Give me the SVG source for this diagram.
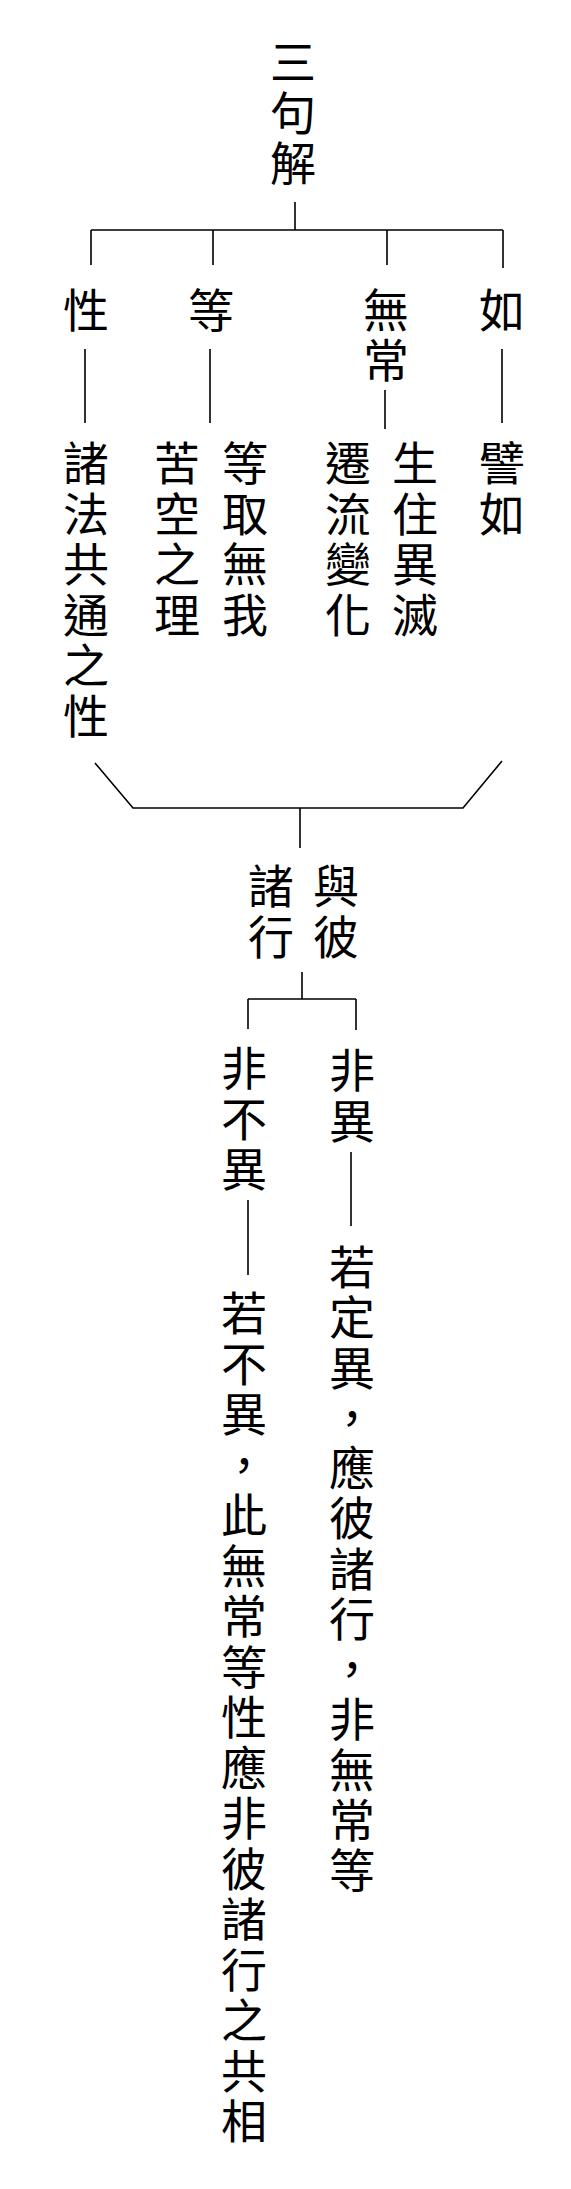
<svg xmlns="http://www.w3.org/2000/svg" width="571" height="2189" viewBox="0 0 571 2189">
<style>
text{font-family:"Noto Sans CJK TC","Noto Sans CJK SC",sans-serif;font-size:46px;fill:#000;text-anchor:middle}
.c{fill:none;stroke:#000;stroke-width:1.6}
</style>
<rect width="571" height="2189" fill="#fff"/>
<g id="connectors">
<path class="c" d="M295 202V230M91 230H503M91 230V265M213 230V265M387 230V265M503 230V268"/>
<path class="c" d="M85 349V423M210 349V423M385 390V429M502 349V423"/>
<path class="c" d="M95 763L133 808H463L502 761M300 808V848"/>
<path class="c" d="M302 972V999M248 999H356M248 999V1029M356 999V1030"/>
<path class="c" d="M248 1200V1275M351 1152V1226"/>
</g>
<g id="root"><text x="293 293 293" y="79 130 180">三句解</text></g>
<g id="n-xing"><text x="86" y="327">性</text></g>
<g id="n-deng"><text x="211" y="327">等</text></g>
<g id="n-wuchang"><text x="386 386" y="327 377">無常</text></g>
<g id="n-ru"><text x="502" y="327">如</text></g>
<g id="d-xing"><text x="86 86 86 86 86 86" y="480 530.5 581 631.5 682 732.5">諸法共通之性</text></g>
<g id="d-deng"><text x="177 177 177 177" y="480 530.5 581 631.5">苦空之理</text><text x="245 245 245 245" y="480 530.5 581 631.5">等取無我</text></g>
<g id="d-wuchang"><text x="348 348 348 348" y="480 530.5 581 631.5">遷流變化</text><text x="415 415 415 415" y="480 530.5 581 631.5">生住異滅</text></g>
<g id="d-ru"><text x="502 502" y="480 530.5">譬如</text></g>
<g id="n-zhuxing"><text x="271 271" y="903 953.5">諸行</text><text x="336 336" y="903 953.5">與彼</text></g>
<g id="n-feibuyi"><text x="244 244 244" y="1085 1135.5 1186">非不異</text></g>
<g id="n-feiyi"><text x="352 352" y="1087 1137.5">非異</text></g>
<g id="d-feibuyi"><text x="244 244 244 244 244 244 244 244 244 244 244 244 244 244 244 244 244" y="1330 1380.5 1431 1481.5 1532 1582.5 1633 1683.5 1734 1784.5 1835 1885.5 1936 1986.5 2037 2087.5 2138">若不異，此無常等性應非彼諸行之共相</text></g>
<g id="d-feiyi"><text x="352 352 352 352 352 352 352 352 352 352 352 352 352" y="1284 1334.3 1384.5 1434.8 1485 1535.3 1585.5 1635.8 1686 1736.3 1786.5 1836.8 1887">若定異，應彼諸行，非無常等</text></g>
</svg>
